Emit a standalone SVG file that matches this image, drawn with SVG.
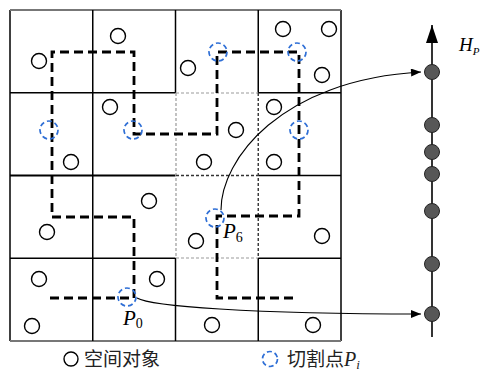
<svg xmlns="http://www.w3.org/2000/svg" width="485" height="372" viewBox="0 0 485 372">
<defs>
<marker id="arr" viewBox="0 0 10 8" refX="10" refY="4" markerWidth="11" markerHeight="8" markerUnits="userSpaceOnUse" orient="auto"><path d="M0,0 L10,4 L0,8 Z" fill="#000"/></marker>
<marker id="up" viewBox="0 0 12 18" refX="6" refY="0" markerWidth="12" markerHeight="18" markerUnits="userSpaceOnUse" orient="0"><path d="M6,0 L12,18 L0,18 Z" fill="#000"/></marker>
</defs>
<style>
.g{stroke:#000;stroke-width:1.5;fill:none}
.gd{stroke:#999;stroke-width:1.2;fill:none;stroke-dasharray:3 2}
.gk{stroke:#333;stroke-width:1.4;fill:none;stroke-dasharray:3 2}
.obj{fill:#fff;stroke:#000;stroke-width:1.4}
.cut{fill:none;stroke:#2f6fd6;stroke-width:1.7;stroke-dasharray:5 3}
.path{fill:none;stroke:#000;stroke-width:2.8;stroke-dasharray:9 5}
.node{fill:#575757;stroke:#222;stroke-width:1}
</style>
<g id="grid">
<rect x="0" y="0" width="485" height="372" fill="#fff"/>
<line class="g" x1="10" y1="10" x2="10" y2="341"/>
<line class="g" x1="341" y1="10" x2="341" y2="341"/>
<line x1="10" y1="10" x2="341" y2="10" stroke="#777" stroke-width="2"/>
<line x1="10" y1="341" x2="341" y2="341" stroke="#777" stroke-width="2.2"/>
<line class="g" x1="92.75" y1="10" x2="92.75" y2="341"/>
<line class="g" x1="175.5" y1="10" x2="175.5" y2="92.75"/>
<line class="g" x1="175.5" y1="258" x2="175.5" y2="341"/>
<line class="g" x1="258.25" y1="10" x2="258.25" y2="92.75"/>
<line class="g" x1="258.25" y1="258" x2="258.25" y2="341"/>
<line class="g" x1="10" y1="92.75" x2="175.5" y2="92.75"/>
<line class="g" x1="258.25" y1="92.75" x2="341" y2="92.75"/>
<line x1="10" y1="175.5" x2="175.5" y2="175.5" stroke="#000" stroke-width="2"/>
<line x1="258.25" y1="175.5" x2="341" y2="175.5" stroke="#000" stroke-width="1.6"/>
<line class="g" x1="10" y1="258.25" x2="175.5" y2="258.25"/>
<line class="g" x1="258.25" y1="258.25" x2="341" y2="258.25"/>
</g>
<g id="dotted-cell">
<line class="gd" x1="176" y1="93" x2="258" y2="93"/>
<line class="gd" x1="176" y1="93" x2="176" y2="258"/>
<line class="gd" x1="176" y1="258" x2="258" y2="258"/>
<line class="gk" x1="258.25" y1="93" x2="258.25" y2="258"/>
<line class="gk" x1="176" y1="175.5" x2="258" y2="175.5"/>
</g>
<g id="curve-path">
<path class="path" d="M50,298 H134 V217 H52 V52 H134 V134 H217 V52 H299 V216 H217 V298 H297"/>
</g>
<g id="objects">
<circle class="obj" cx="39" cy="61" r="7.5"/>
<circle class="obj" cx="118" cy="36" r="7.5"/>
<circle class="obj" cx="110" cy="107" r="7.5"/>
<circle class="obj" cx="71" cy="162" r="7.5"/>
<circle class="obj" cx="283" cy="29" r="7.5"/>
<circle class="obj" cx="329" cy="29" r="7.5"/>
<circle class="obj" cx="188" cy="68" r="7.5"/>
<circle class="obj" cx="322" cy="75" r="7.5"/>
<circle class="obj" cx="274" cy="107" r="7.5"/>
<circle class="obj" cx="236" cy="130" r="7.5"/>
<circle class="obj" cx="204" cy="162" r="7.5"/>
<circle class="obj" cx="274" cy="162" r="7.5"/>
<circle class="obj" cx="149" cy="201" r="7.5"/>
<circle class="obj" cx="47" cy="232" r="7.5"/>
<circle class="obj" cx="39" cy="279" r="7.5"/>
<circle class="obj" cx="157" cy="279" r="7.5"/>
<circle class="obj" cx="32" cy="326" r="7.5"/>
<circle class="obj" cx="196" cy="241" r="7.5"/>
<circle class="obj" cx="322" cy="236" r="7.5"/>
<circle class="obj" cx="212" cy="325" r="7.5"/>
<circle class="obj" cx="313" cy="325" r="7.5"/>
</g>
<g id="cut-points">
<circle class="cut" cx="49" cy="130" r="9"/>
<circle class="cut" cx="133" cy="130" r="9"/>
<circle class="cut" cx="218" cy="52" r="9"/>
<circle class="cut" cx="297" cy="52" r="9"/>
<circle class="cut" cx="299" cy="130" r="9"/>
<circle class="cut" cx="127" cy="297" r="9"/>
<circle class="cut" cx="215" cy="218" r="9"/>
</g>
<g id="connectors">
<path d="M221,210 C221,160 280,80 421,72" fill="none" stroke="#000" stroke-width="1.1" marker-end="url(#arr)"/>
<path d="M137,298 C150,306 250,314 421,314" fill="none" stroke="#000" stroke-width="1.1" marker-end="url(#arr)"/>
</g>
<g id="axis">
<line x1="432" y1="25" x2="432" y2="337" stroke="#000" stroke-width="1.6" marker-start="url(#up)"/>
<circle class="node" cx="432" cy="72" r="7.5"/>
<circle class="node" cx="432" cy="125" r="7.5"/>
<circle class="node" cx="432" cy="152" r="7.5"/>
<circle class="node" cx="432" cy="174" r="7.5"/>
<circle class="node" cx="432" cy="211" r="7.5"/>
<circle class="node" cx="432" cy="264" r="7.5"/>
<circle class="node" cx="432" cy="314" r="7.5"/>
<text x="459" y="51" font-family="Liberation Serif, serif" font-style="italic" font-size="19">H<tspan font-size="11" dy="4">P</tspan></text>
</g>
<g id="labels">
<text x="123" y="325" font-family="Liberation Serif, serif" font-style="italic" font-size="21">P<tspan font-style="normal" font-size="14" dy="3">0</tspan></text>
<text x="223" y="238" font-family="Liberation Serif, serif" font-style="italic" font-size="21">P<tspan font-style="normal" font-size="14" dy="4">6</tspan></text>
</g>
<g id="legend">
<circle class="obj" cx="71" cy="359" r="7"/>
<text x="84" y="366" font-family="Noto Sans CJK SC, sans-serif" font-size="19" fill="#222">空间对象</text>
<circle class="cut" cx="270" cy="359" r="7.5"/>
<text x="287" y="366" font-family="Noto Sans CJK SC, sans-serif" font-size="19" fill="#222">切割点<tspan font-family="Liberation Serif, serif" font-style="italic" font-size="20">P</tspan><tspan font-family="Liberation Serif, serif" font-style="italic" font-size="13" dy="3">i</tspan></text>
</g>
</svg>
